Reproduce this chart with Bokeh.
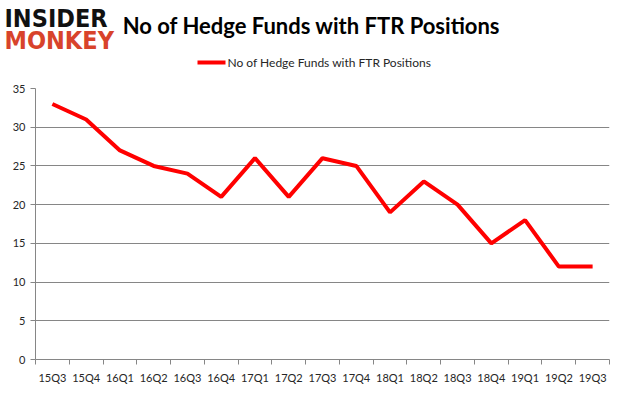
from bokeh.plotting import figure
from bokeh.models import FixedTicker, Range1d, ColumnDataSource
from bokeh.layouts import column
from bokeh.core.properties import value
from bokeh.embed import file_html
from bokeh.resources import INLINE

quarters = ["15Q3", "15Q4", "16Q1", "16Q2", "16Q3", "16Q4", "17Q1", "17Q2", "17Q3",
            "17Q4", "18Q1", "18Q2", "18Q3", "18Q4", "19Q1", "19Q2", "19Q3"]
values = [33, 31, 27, 25, 24, 21, 26, 21, 26, 25, 19, 23, 20, 15, 18, 12, 12]
y_ticks = [0, 5, 10, 15, 20, 25, 30, 35]
series_name = "No of Hedge Funds with FTR Positions"
title_text = "No of Hedge Funds with FTR Positions"

FONT = "Lato"
W = 625
HEAD_H = 80

# ---------- header (logo, title, legend) ----------
h = figure(width=W, height=HEAD_H, output_backend="svg", toolbar_location=None,
           x_range=Range1d(0, W), y_range=Range1d(HEAD_H, 0),
           x_axis_type=None, y_axis_type=None,
           min_border=0, min_border_left=0, min_border_right=0,
           min_border_top=0, min_border_bottom=0)
h.grid.visible = False
h.outline_line_color = None
h.text(x=[311], y=[25], text=[title_text], text_font=value(FONT), text_font_style="bold",
       text_font_size="22px", text_align="center", text_baseline="middle", text_color="#000000")
h.text(x=[4], y=[18], text=["INSIDER"], text_font=value("DejaVu Sans Condensed"),
       text_font_style="bold", text_font_size="25px", text_align="left",
       text_baseline="middle", text_color="#111111")
h.text(x=[4], y=[40], text=["MONKEY"], text_font=value("DejaVu Sans Condensed"),
       text_font_style="bold", text_font_size="25px", text_align="left",
       text_baseline="middle", text_color="#d8432b")
h.line(x=[197, 225], y=[62, 62], line_color="#ff0000", line_width=4)
h.text(x=[227], y=[62], text=[series_name], text_font=value(FONT), text_font_size="12px",
       text_align="left", text_baseline="middle", text_color="#262626")

# ---------- main chart ----------
n = len(quarters)
xs = [i + 0.5 for i in range(n)]
src = ColumnDataSource(dict(x=xs, y=values, q=quarters))

p = figure(width=W, height=394 - HEAD_H, output_backend="svg", toolbar_location=None,
           x_range=Range1d(0, n), y_range=Range1d(0, y_ticks[-1]),
           min_border_left=35, min_border_right=16, min_border_top=8, min_border_bottom=35)
p.outline_line_color = None

p.line("x", "y", source=src, line_color="#ff0000", line_width=4)

p.xaxis.ticker = FixedTicker(ticks=xs, minor_ticks=list(range(n + 1)))
p.xaxis.major_label_overrides = {x: q for x, q in zip(xs, quarters)}
p.xaxis.major_tick_line_color = None
p.xaxis.major_tick_out = 0
p.xaxis.major_tick_in = 0
p.xaxis.minor_tick_out = 5
p.xaxis.minor_tick_in = 0
p.xaxis.minor_tick_line_color = "#868686"
p.xaxis.major_label_standoff = 6
p.yaxis.ticker = FixedTicker(ticks=y_ticks)
p.yaxis.minor_tick_line_color = None
p.yaxis.major_tick_out = 5
p.yaxis.major_tick_in = 0
p.yaxis.major_tick_line_color = "#868686"
p.yaxis.major_label_standoff = 5
for ax in (p.xaxis, p.yaxis):
    ax.axis_line_color = "#868686"
    ax.major_label_text_font = FONT
    ax.major_label_text_font_size = "11px"
    ax.major_label_text_color = "#262626"
p.xgrid.grid_line_color = None
p.ygrid.grid_line_color = "#868686"
p.ygrid.ticker = FixedTicker(ticks=y_ticks)

for f in (h, p):
    if "frame_align" in f.properties():
        f.frame_align = False

layout = column(h, p, spacing=0)
open("out.html", "w").write(file_html(layout, INLINE))
